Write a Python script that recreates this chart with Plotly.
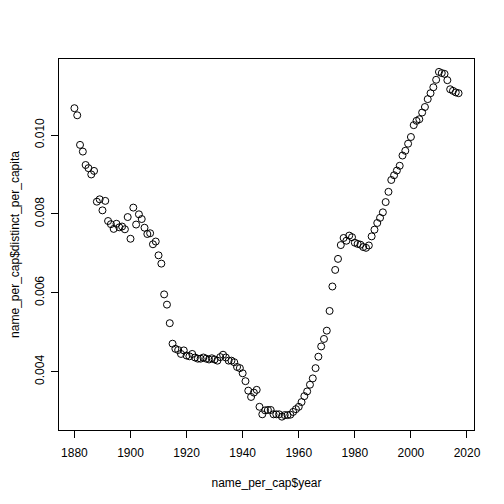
import plotly.graph_objects as go

# name_per_cap data
year = list(range(1880, 2018))

distinct_per_capita = [
    0.01068, 0.01050, 0.00975, 0.00958, 0.00924, 0.00916, 0.00900, 0.00909,
    0.00831, 0.00837, 0.00809, 0.00833, 0.00782, 0.00774, 0.00762, 0.00775,
    0.00766, 0.00768, 0.00761, 0.00792, 0.00737, 0.00816, 0.00773, 0.00799,
    0.00787, 0.00765, 0.00749, 0.00751, 0.00723, 0.00730, 0.00695, 0.00674,
    0.00596, 0.00570, 0.00523,
    0.00471, 0.00458, 0.00455, 0.00445, 0.00454, 0.00441, 0.00439, 0.00445,
    0.00436, 0.00433, 0.00433, 0.00436, 0.00433, 0.00431, 0.00434, 0.00431,
    0.00428, 0.00437, 0.00443, 0.00436, 0.00428, 0.00428, 0.00424, 0.00412,
    0.00409, 0.00396,
    0.00376, 0.00352, 0.00336, 0.00347, 0.00354, 0.00311, 0.00292, 0.00302,
    0.00303, 0.00303, 0.00292, 0.00292, 0.00292, 0.00286, 0.00290, 0.00290,
    0.00291, 0.00298, 0.00305, 0.00311, 0.00323, 0.00338, 0.00350, 0.00367,
    0.00383, 0.00409, 0.00438,
    0.00464, 0.00483, 0.00504, 0.00554, 0.00616, 0.00658, 0.00686, 0.00721,
    0.00739, 0.00732, 0.00745, 0.00741, 0.00727, 0.00724, 0.00722, 0.00716,
    0.00714, 0.00720, 0.00743, 0.00760, 0.00777, 0.00790, 0.00804, 0.00830,
    0.00856, 0.00886, 0.00898, 0.00910, 0.00922, 0.00948, 0.00960, 0.00978,
    0.00995, 0.01025, 0.01036, 0.01040, 0.01057, 0.01071, 0.01091, 0.01106,
    0.01121, 0.01140, 0.01160, 0.01157, 0.01155, 0.01139, 0.01116, 0.01112,
    0.01108, 0.01106,
]

x_ticks = [1880, 1900, 1920, 1940, 1960, 1980, 2000, 2020]
y_ticks = [0.004, 0.006, 0.008, 0.010]
y_tick_text = ["0.004", "0.006", "0.008", "0.010"]

fig = go.Figure()
fig.add_trace(go.Scatter(
    x=year, y=distinct_per_capita, mode="markers",
    marker=dict(symbol="circle-open", size=7, color="black", line=dict(width=1, color="black")),
    showlegend=False,
))

# page body has an 8px margin, so the figure is 496 and margins shifted by 8
fig.update_layout(
    width=496, height=496,
    margin=dict(l=51, r=30, t=51, b=74),
    plot_bgcolor="white", paper_bgcolor="white",
    font=dict(family="Liberation Sans, Arial, sans-serif", size=12, color="black"),
)
fig.update_xaxes(
    range=[1874.5, 2022.5], tickvals=x_ticks, showgrid=False, zeroline=False,
    showline=True, linecolor="black", linewidth=1, mirror=True,
    ticks="outside", ticklen=7, tickcolor="black", tickwidth=1,
    ticklabelstandoff=5,
    title=dict(text="name_per_cap$year", standoff=19, font=dict(size=12)),
    automargin=False,
)
fig.update_yaxes(
    range=[0.002522, 0.011927], tickvals=y_ticks, ticktext=y_tick_text,
    tickangle=-90, showgrid=False, zeroline=False,
    showline=True, linecolor="black", linewidth=1, mirror=True,
    ticks="outside", ticklen=7, tickcolor="black", tickwidth=1,
    ticklabelstandoff=2,
    title=dict(text="name_per_cap$distinct_per_capita", standoff=16, font=dict(size=12)),
    automargin=False,
)

fig.write_html("out.html")
